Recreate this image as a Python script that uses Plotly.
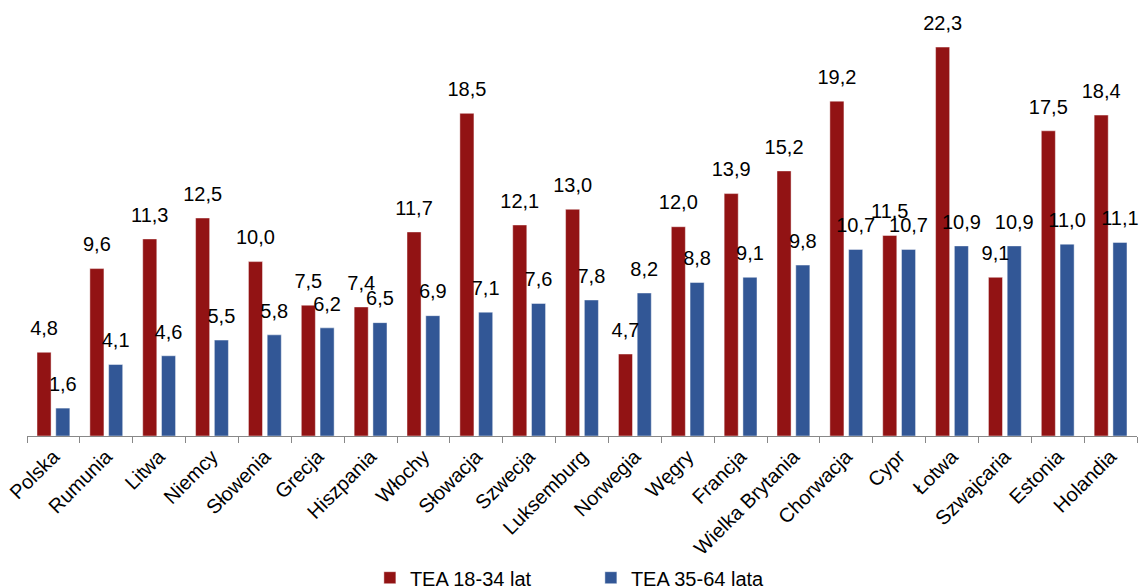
import plotly.graph_objects as go

categories = ["Polska", "Rumunia", "Litwa", "Niemcy", "Słowenia", "Grecja", "Hiszpania",
              "Włochy", "Słowacja", "Szwecja", "Luksemburg", "Norwegia", "Węgry", "Francja",
              "Wielka Brytania", "Chorwacja", "Cypr", "Łotwa", "Szwajcaria", "Estonia", "Holandia"]
tea_18_34 = [4.8, 9.6, 11.3, 12.5, 10.0, 7.5, 7.4, 11.7, 18.5, 12.1, 13.0, 4.7, 12.0, 13.9,
             15.2, 19.2, 11.5, 22.3, 9.1, 17.5, 18.4]
tea_35_64 = [1.6, 4.1, 4.6, 5.5, 5.8, 6.2, 6.5, 6.9, 7.1, 7.6, 7.8, 8.2, 8.8, 9.1,
             9.8, 10.7, 10.7, 10.9, 10.9, 11.0, 11.1]
series_names = ["TEA 18-34 lat", "TEA 35-64 lata"]

RED = "#921314"
BLUE = "#325796"
FONT = "Arial, Liberation Sans, sans-serif"

fig = go.Figure()
for name, vals, col, og in [(series_names[0], tea_18_34, RED, "a"),
                            (series_names[1], tea_35_64, BLUE, "b")]:
    fig.add_trace(go.Bar(
        x=categories, y=vals, name=name, offsetgroup=og,
        marker=dict(color=col, line=dict(color="rgba(255,255,255,0.45)", width=1)),
    ))
for vals, og in [(tea_18_34, "a"), (tea_35_64, "b")]:
    fig.add_trace(go.Scatter(
        x=categories, y=vals, offsetgroup=og, mode="markers+text",
        marker=dict(size=18, color="rgba(0,0,0,0)"),
        texttemplate="%{y:.1f}", textposition="top center",
        textfont=dict(family=FONT, size=20, color="black"),
        showlegend=False, hoverinfo="skip", cliponaxis=False,
    ))

fig.update_layout(
    width=1147, height=588,
    margin=dict(l=27, r=10, t=0, b=152, autoexpand=False),
    paper_bgcolor="white", plot_bgcolor="white",
    barmode="group", bargap=0.29, bargroupgap=0.25,
    scattermode="group", scattergap=0.29,
    separators=", ",
    font=dict(family=FONT, size=20, color="black"),
    showlegend=True,
    legend=dict(orientation="h", x=0.508, xanchor="center",
                y=-0.325, yanchor="middle", font=dict(size=20),
                entrywidth=176, traceorder="normal"),
    xaxis=dict(type="category", tickangle=-45, showline=True, linecolor="#888888",
               linewidth=1, ticks="outside", tickson="boundaries", ticklen=6,
               tickcolor="#888888", tickfont=dict(size=20, color="black"),
               showgrid=False, zeroline=False, automargin=False),
    yaxis=dict(range=[0, 25], visible=False, showgrid=False, zeroline=False,
               automargin=False),
)

fig.write_html("out.html")
